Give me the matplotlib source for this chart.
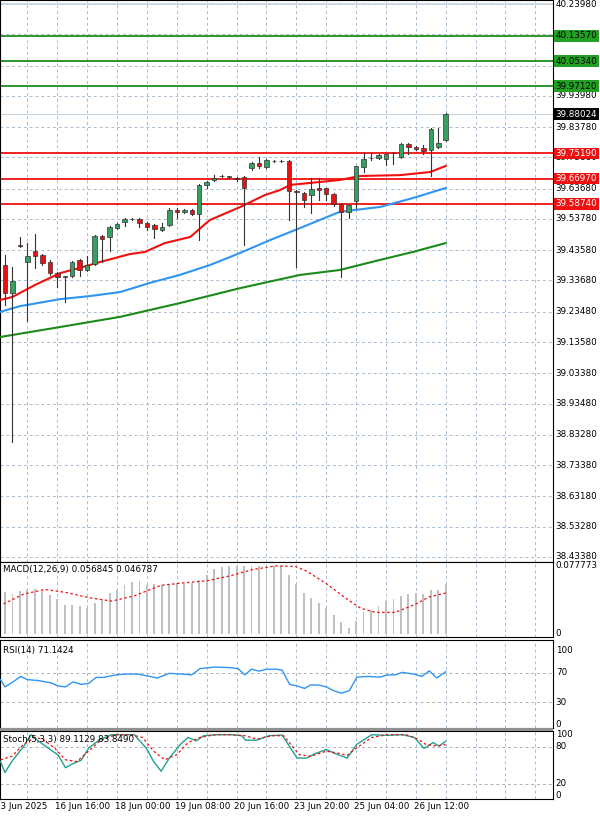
import matplotlib
matplotlib.use("Agg")
import matplotlib.pyplot as plt
from matplotlib.patches import Rectangle

# ---- price candles (open, high, low, close) ----
opens = [39.387, 39.296, 39.453, 39.397, 39.433, 39.420, 39.397, 39.361, 39.348, 39.351,
         39.404, 39.371, 39.391, 39.482, 39.479, 39.508, 39.528, 39.538, 39.538, 39.525,
         39.518, 39.502, 39.518, 39.567, 39.561, 39.567, 39.554, 39.649, 39.665, 39.678,
         39.675, 39.672, 39.675, 39.704, 39.721, 39.707, 39.727, 39.727, 39.727, 39.629,
         39.623, 39.616, 39.639, 39.639, 39.619, 39.587, 39.561, 39.597, 39.707, 39.737,
         39.737, 39.734, 39.753, 39.740, 39.783, 39.773, 39.770, 39.763, 39.773, 39.796]
highs = [39.420, 39.381, 39.479, 39.459, 39.489, 39.423, 39.404, 39.365, 39.351, 39.401,
         39.407, 39.417, 39.485, 39.485, 39.515, 39.525, 39.541, 39.541, 39.541, 39.528,
         39.521, 39.525, 39.574, 39.574, 39.571, 39.571, 39.652, 39.662, 39.681, 39.681,
         39.678, 39.675, 39.678, 39.724, 39.740, 39.734, 39.730, 39.730, 39.730, 39.632,
         39.626, 39.672, 39.672, 39.639, 39.623, 39.590, 39.583, 39.711, 39.753, 39.753,
         39.750, 39.750, 39.757, 39.786, 39.786, 39.777, 39.780, 39.835, 39.835, 39.884]
lows = [39.257, 38.809, 39.446, 39.205, 39.378, 39.387, 39.355, 39.316, 39.267, 39.348,
        39.351, 39.368, 39.387, 39.397, 39.433, 39.505, 39.515, 39.534, 39.511, 39.502,
        39.476, 39.498, 39.515, 39.541, 39.557, 39.551, 39.469, 39.639, 39.662, 39.675,
        39.672, 39.662, 39.453, 39.698, 39.704, 39.704, 39.724, 39.724, 39.534, 39.381,
        39.577, 39.557, 39.600, 39.600, 39.580, 39.348, 39.541, 39.574, 39.691, 39.730,
        39.734, 39.714, 39.717, 39.737, 39.750, 39.763, 39.750, 39.678, 39.770, 39.793]
closes = [39.296, 39.335, 39.450, 39.417, 39.417, 39.394, 39.361, 39.348, 39.351, 39.397,
          39.371, 39.387, 39.482, 39.472, 39.511, 39.521, 39.538, 39.537, 39.525, 39.511,
          39.505, 39.511, 39.567, 39.561, 39.567, 39.554, 39.649, 39.659, 39.672, 39.678,
          39.675, 39.668, 39.639, 39.721, 39.711, 39.730, 39.727, 39.727, 39.629, 39.626,
          39.600, 39.636, 39.632, 39.619, 39.587, 39.561, 39.583, 39.711, 39.734, 39.737,
          39.747, 39.750, 39.753, 39.783, 39.773, 39.766, 39.760, 39.832, 39.786, 39.880]

# moving averages (sampled points: candle index, price)
ma_red_x = [-0.7, 1, 4, 7.4, 10, 12.7, 16.7, 18.7, 21.4, 24.8, 27.4, 31.5, 34.8, 36.8, 38.2, 44.8, 47.5, 52.9, 56.9, 59]
ma_red_y = [39.273, 39.283, 39.322, 39.361, 39.378, 39.397, 39.423, 39.430, 39.459, 39.479, 39.534, 39.577,
            39.616, 39.632, 39.649, 39.665, 39.678, 39.681, 39.691, 39.711]
ma_blue_x = [-0.7, 2, 7.4, 11.4, 15.4, 19.4, 23.4, 27.4, 31.5, 35.5, 39.5, 44.8, 50.2, 54.6, 59]
ma_blue_y = [39.234, 39.253, 39.276, 39.286, 39.299, 39.329, 39.355, 39.387, 39.427, 39.469, 39.508,
             39.561, 39.577, 39.606, 39.639]
ma_green_x = [-0.7, 7.4, 15.4, 23.4, 31.5, 39.5, 44.8, 50.2, 54.6, 59]
ma_green_y = [39.152, 39.185, 39.218, 39.263, 39.312, 39.355, 39.371, 39.404, 39.430, 39.459]

green_levels = [40.13570, 40.05340, 39.97120]
red_levels = [39.75190, 39.66970, 39.58740]
last_price = 39.88024
price_ticks = [40.2398, 40.1408, 40.0388, 39.9398, 39.8378, 39.7388, 39.6368, 39.5378, 39.4358, 39.3368,
               39.2348, 39.1358, 39.0338, 38.9348, 38.8328, 38.7338, 38.6318, 38.5328, 38.4338]
price_labels = ["40.23980", "", "", "39.93980", "39.83780", "39.73880", "39.63680", "39.53780", "39.43580",
                "39.33680", "39.23480", "39.13580", "39.03380", "38.93480", "38.83280", "38.73380",
                "38.63180", "38.53280", "38.43380"]

# ---- MACD ----
macd_hist = [0.0476, 0.0455, 0.0488, 0.0504, 0.0516, 0.0488, 0.0443, 0.0395, 0.0334, 0.0334,
             0.0314, 0.0294, 0.0355, 0.0383, 0.0467, 0.0504, 0.0556, 0.0596, 0.0605, 0.0556,
             0.0568, 0.0556, 0.0576, 0.0584, 0.0568, 0.0584, 0.0617, 0.0677, 0.0737, 0.0770,
             0.0778, 0.0778, 0.0778, 0.0778, 0.0778, 0.0778, 0.0778, 0.0778, 0.0677, 0.0568,
             0.0467, 0.0415, 0.0355, 0.0294, 0.0214, 0.0133, 0.0073, 0.0153, 0.0254, 0.0274,
             0.0314, 0.0375, 0.0395, 0.0435, 0.0455, 0.0467, 0.0455, 0.0504, 0.0504, 0.0568]
macd_sig_x = [-0.2, 2.5, 5.3, 8.1, 11.2, 14.3, 17.3, 20.9, 24.0, 27.1, 30.2, 33.2, 36.3, 38.9, 40.4,
              43, 45.5, 47.6, 49.6, 52.2, 54.8, 56.8, 59]
macd_sig_y = [0.0343, 0.0455, 0.0508, 0.0475, 0.0415, 0.0375, 0.0435, 0.0556, 0.0584, 0.0608, 0.0665,
              0.0737, 0.0778, 0.0770, 0.0717, 0.0576, 0.0415, 0.0294, 0.0246, 0.0246, 0.0334, 0.0423, 0.0468]

# ---- RSI ----
rsi_x = [-0.6, 0, 0.9, 2.1, 3.0, 4.5, 6.1, 7.1, 8.1, 9.1, 10.2, 11.2, 12.2, 13.2, 14.8, 16.3, 17.9, 19.4,
         20.4, 22.0, 24.0, 25.0, 26.1, 28.1, 30.2, 31.2, 32.1, 33.0, 34.0, 35.0, 36.3, 37.1, 38.1, 39.1,
         40.1, 40.9, 41.9, 43.0, 44.0, 45.0, 46.1, 47.1, 48.6, 50.2, 51.2, 52.2, 53.2, 54.8, 55.8, 56.8,
         57.8, 59]
rsi_y = [60.4, 50.6, 56.2, 64.7, 60.4, 59.1, 56.2, 51.9, 50.6, 57.4, 54.0, 55.3, 63.4, 63.4, 66.8, 68.1,
         67.7, 64.7, 62.6, 68.9, 67.7, 66.8, 75.3, 77.4, 76.6, 75.3, 66.8, 74.5, 71.9, 74.5, 74.5, 73.2,
         54.0, 51.9, 48.5, 53.2, 53.2, 50.6, 45.5, 42.1, 45.5, 63.8, 64.7, 63.8, 66.8, 66.8, 70.2, 67.7,
         64.7, 72.3, 62.6, 71.1]

# ---- Stochastic ----
stk_x = [-0.6, 0, 0.9, 2.5, 3.5, 4.5, 6.1, 7.1, 8.1, 9.1, 10.2, 11.2, 12.7, 14.3, 15.8, 17.3, 18.9, 19.9,
         20.9, 22.0, 23.5, 24.5, 25.6, 26.6, 28.6, 30.2, 31.7, 32.2, 33.7, 35.3, 37.1, 39.1, 40.4, 41.4,
         43.0, 44.0, 45.8, 47.1, 49.1, 51.2, 53.2, 54.8, 56.1, 57.3, 58.1, 59]
stk_y = [56.2, 38.2, 56.2, 80.9, 100, 89.3, 75.3, 66.9, 46.1, 52.8, 58.4, 78.1, 92.1, 100, 100, 100, 78.1,
         56.2, 40.4, 61.8, 84.3, 95.5, 89.9, 98.3, 100, 100, 98.3, 91.0, 91.0, 98.3, 99.4, 61.8, 61.8,
         68.5, 75.8, 70.2, 61.8, 84.3, 100, 98.9, 100, 95.5, 77.5, 87.1, 81.5, 89.1]
std_x = [-0.6, 0.9, 2.5, 4.0, 5.0, 6.6, 8.1, 9.6, 11.2, 12.7, 14.8, 16.8, 18.4, 19.9, 21.4, 23.0, 24.5,
         26.1, 28.1, 30.2, 32.2, 33.7, 35.8, 37.3, 39.4, 40.9, 43.0, 44.5, 45.8, 47.1, 49.1, 51.2, 53.7,
         55.3, 56.3, 57.8, 59]
std_y = [59, 64.6, 84.3, 95.5, 92.7, 78.7, 59.0, 56.2, 73.0, 89.9, 100, 100, 95.5, 73.0, 59.0, 67.4, 87.1,
         95.5, 100, 100, 98.3, 92.7, 98.3, 98.3, 67.4, 64.6, 73.0, 70.2, 66.3, 78.7, 95.5, 100, 100, 92.7,
         84.3, 81.5, 83.8]

date_idx = [-1, 7, 15, 23, 31, 39, 47, 55]
date_labels = ["13 Jun 2025", "16 Jun 16:00", "18 Jun 00:00", "19 Jun 08:00", "20 Jun 16:00",
               "23 Jun 20:00", "25 Jun 04:00", "26 Jun 12:00"]

W, H = 600, 818
fig = plt.figure(figsize=(W / 100, H / 100), dpi=100, facecolor="white")
XMIN, XMAX = -0.67, 73.36
GRID = dict(color="#a9bcd0", linestyle=(0, (3, 3)), linewidth=0.7)
FS = 6.3


def panel(top, bottom):
    ax = fig.add_axes([0, 1 - bottom / H, 553 / W, (bottom - top) / H])
    ax.set_xlim(XMIN, XMAX)
    ax.set_xticks([])
    ax.set_yticks([])
    for s in ax.spines.values():
        s.set_linewidth(0.8)
    for i in range(3, 74, 4):
        ax.axvline(i, **GRID, zorder=0)
    return ax


def rlabel(ax, y, text, z=3, **kw):
    ax.text(1.005, y, text, transform=ax.get_yaxis_transform(), va="center", ha="left",
            fontsize=FS, clip_on=False, zorder=z, **kw)


# ---- main panel ----
ax = panel(0, 562)
ax.set_ylim(38.4174, 40.2529)
for t, lab in zip(price_ticks, price_labels):
    ax.axhline(t, **GRID, zorder=0)
    if lab:
        rlabel(ax, t, lab)
ax.axhline(price_ticks[0], color="#c8d2dc", linewidth=1.2, zorder=0)

for lv in green_levels:
    ax.axhline(lv, color="#1e8c1e", linewidth=1.3, zorder=2)
    rlabel(ax, lv, f"{lv:.5f}", z=8, color="black",
           bbox=dict(boxstyle="square,pad=0.15", fc="#22a022", ec="none"))
for lv in red_levels:
    ax.axhline(lv, color="#f01010", linewidth=1.3, zorder=2)
    rlabel(ax, lv, f"{lv:.5f}", z=8, color="white",
           bbox=dict(boxstyle="square,pad=0.15", fc="#f01010", ec="none"))
ax.axhline(last_price, color="#c8d2dc", linewidth=0.8, zorder=1)
rlabel(ax, last_price, f"{last_price:.5f}", z=8, color="white",
       bbox=dict(boxstyle="square,pad=0.15", fc="black", ec="none"))

ax.plot(ma_green_x, ma_green_y, color="#1a8a1a", linewidth=1.5, zorder=3)
ax.plot(ma_blue_x, ma_blue_y, color="#2f95f0", linewidth=1.5, zorder=3)
ax.plot(ma_red_x, ma_red_y, color="#f01010", linewidth=1.5, zorder=3)

for i, (o, h, l, c) in enumerate(zip(opens, highs, lows, closes)):
    ax.plot([i, i], [l, h], color="#333333", linewidth=0.8, zorder=4)
    fc = "#35a060" if c >= o else "#e81010"
    lo, hi = min(o, c), max(o, c)
    ax.add_patch(Rectangle((i - 0.3, lo), 0.6, max(hi - lo, 0.0015), facecolor=fc,
                           edgecolor="#333333", linewidth=0.5, zorder=5))

# ---- MACD ----
ax = panel(562, 637)
ax.set_ylim(-0.0035, 0.0822)
ax.bar(range(len(macd_hist)), macd_hist, width=0.25, color="#c0c0c0", zorder=2)
ax.plot(macd_sig_x, macd_sig_y, color="#f01010", linestyle=(0, (2, 2)), linewidth=0.9, zorder=3)
ax.text(0.005, 0.9, "MACD(12,26,9) 0.056845 0.046787", transform=ax.transAxes, fontsize=FS, va="center")
rlabel(ax, 0.0778, "0.077773")
rlabel(ax, 0, "0")

# ---- RSI ----
ax = panel(640, 728)
ax.set_ylim(-5, 114)
for v in (70, 30):
    ax.axhline(v, color="#b0b0b0", linestyle=(0, (3, 3)), linewidth=0.7)
ax.plot(rsi_x, rsi_y, color="#2f95f0", linewidth=1.0, zorder=3)
ax.text(0.005, 0.88, "RSI(14) 71.1424", transform=ax.transAxes, fontsize=FS, va="center")
for v in (100, 70, 30, 0):
    rlabel(ax, v, str(v))
fig.add_artist(Rectangle((0, 1 - 731 / H), 553 / W, 3 / H, transform=fig.transFigure,
                         facecolor="#909090", edgecolor="none"))

# ---- Stochastic ----
ax = panel(731, 799)
ax.set_ylim(-5, 106)
for v in (80, 20):
    ax.axhline(v, color="#b0b0b0", linestyle=(0, (3, 3)), linewidth=0.7)
ax.plot(stk_x, stk_y, color="#20a090", linewidth=1.0, zorder=3)
ax.plot(std_x, std_y, color="#f01010", linestyle=(0, (2, 2)), linewidth=0.9, zorder=3)
ax.text(0.005, 0.88, "Stoch(5,3,3) 89.1129 83.8490", transform=ax.transAxes, fontsize=FS, va="center")
for v in (100, 80, 20, 0):
    rlabel(ax, v, str(v))
for i, lab in zip(date_idx, date_labels):
    ax.text(i - 0.3, -0.05, lab, transform=ax.get_xaxis_transform(), fontsize=FS,
            ha="left", va="top", clip_on=False)

fig.savefig("out.png", dpi=100)
